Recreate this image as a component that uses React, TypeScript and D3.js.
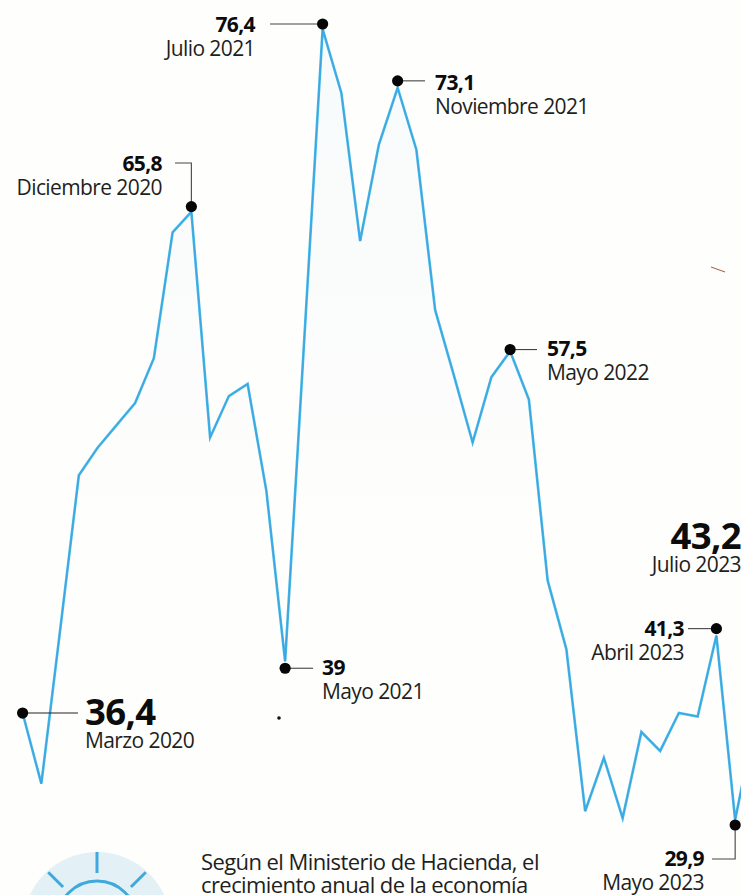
import React from "react";
import * as d3 from "d3";

const W = 741, H = 895;
const lineValues = [36.4,32.3,41.2,50.2,51.8,53.1,54.4,57.0,64.3,65.5,52.4,54.8,55.5,49.3,39.4,57.7,76.1,72.4,63.8,69.4,72.7,69.1,59.8,56.0,52.1,55.9,57.4,54.6,44.1,40.1,30.7,33.8,30.3,35.3,34.2,36.4,36.2,40.9,30.2,35.6,43.2];
const callIdx = [0,9,14,16,20,26,37,38];
const callVals = [36.4,65.8,39,76.4,73.1,57.5,41.3,29.9];
const rays = [-45, 0, 45];

const x = d3.scaleLinear().domain([0, 37]).range([22.6, 716.4]);
const y = d3.scaleLinear().domain([76.4, 29.9]).range([24, 825]);

const FONT = "'Open Sans', 'Noto Sans', sans-serif";
const ink = "#221e1e";
const leader = "#444";
const blue = "#45b6e8";

function Lab({ x: tx, y: ty, anchor, size = 21, sub, val, subSize = 21, dy = 24 }: any) {
  return (
    <g textAnchor={anchor} fontFamily={FONT}>
      <text x={tx} y={ty} fontSize={size} fontWeight={700} fill="#0c0c0c" letterSpacing={-0.6}>{val}</text>
      <text x={tx} y={ty + dy} fontSize={subSize} fill={ink} letterSpacing={-0.6}>{sub}</text>
    </g>
  );
}

export default function App() {
  const line = d3.line<number>().x((_, i) => x(i)).y((d) => y(d));
  const area = d3.area<number>().x((_, i) => x(i)).y0(H).y1((d) => y(d));
  const cx = 97, cy = 921;
  const rad = (a: number) => (a * Math.PI) / 180;
  return (
    <svg width={W} height={H} style={{ position: "fixed", left: 0, top: 0, background: "#fefefc" }}>
      <defs>
        <linearGradient id="fade" x1="0" y1="0" x2="0" y2="1">
          <stop offset="0" stopColor="#dcedf6" stopOpacity={0.2} />
          <stop offset="0.45" stopColor="#e6f2f8" stopOpacity={0.1} />
          <stop offset="0.65" stopColor="#fefefc" stopOpacity={0} />
        </linearGradient>
      </defs>
      <path d={area(lineValues) ?? ""} fill="url(#fade)" />
      <path d={line(lineValues) ?? ""} fill="none" stroke={blue} strokeWidth={2.6} strokeLinejoin="miter" />
      <path d={line(lineValues) ?? ""} fill="none" stroke="#2f86d0" strokeWidth={0.7} opacity={0.55} />

      <g stroke={leader} strokeWidth={1.1} fill="none">
        <path d={`M${x(0)},${y(36.4)}H78`} stroke="#222" />
        <path d={`M175,163H${x(9)}V${y(65.8)}`} />
        <path d={`M${x(14)},${y(39)}H313`} />
        <path d={`M270,${y(76.4)}H${x(16)}`} />
        <path d={`M${x(20)},${y(73.1)}H425`} />
        <path d={`M${x(26)},${y(57.5)}H537`} />
        <path d={`M688,${y(41.3)}H${x(37)}`} />
        <path d={`M712,859H${x(38)}V${y(29.9)}`} />
      </g>
      {callIdx.map((m, i) => (
        <circle key={m} cx={x(m)} cy={y(callVals[i])} r={5.6} fill="#060606" />
      ))}
      <circle cx={279} cy={718} r={1.8} fill="#111" />
      <path d="M711,267 L725,272" stroke="#a5584a" strokeWidth={1} fill="none" />

      <Lab x={85} y={725} anchor="start" size={36.5} val="36,4" dy={23} sub="Marzo 2020" />
      <Lab x={162} y={171} anchor="end" val="65,8" sub="Diciembre 2020" />
      <Lab x={322} y={675} anchor="start" val="39" sub="Mayo 2021" />
      <Lab x={255} y={32} anchor="end" val="76,4" sub="Julio 2021" />
      <Lab x={435} y={90} anchor="start" val="73,1" sub="Noviembre 2021" />
      <Lab x={547} y={356} anchor="start" val="57,5" sub="Mayo 2022" />
      <Lab x={684} y={636} anchor="end" val="41,3" sub="Abril 2023" />
      <Lab x={704} y={866} anchor="end" val="29,9" sub="Mayo 2023" />
      <Lab x={741} y={549} anchor="end" size={36.5} val="43,2" sub="Julio 2023" dy={23} />

      <circle cx={cx} cy={cy + 5} r={74} fill="#e3f1f7" />
      <circle cx={cx} cy={cy} r={40} fill="none" stroke="#3fa9dc" strokeWidth={3} />
      <g stroke="#3fa9dc" strokeWidth={3}>
        {rays.map((a) => (
          <line key={a}
            x1={cx + 48 * Math.sin(rad(a))} y1={cy - 48 * Math.cos(rad(a))}
            x2={cx + 69 * Math.sin(rad(a))} y2={cy - 69 * Math.cos(rad(a))} />
        ))}
      </g>

      <g fontFamily={FONT} fontSize={22} fill={ink} letterSpacing={-0.58}>
        <text x={201} y={870}>Según el Ministerio de Hacienda, el</text>
        <text x={201} y={893}>crecimiento anual de la economía</text>
      </g>
    </svg>
  );
}
